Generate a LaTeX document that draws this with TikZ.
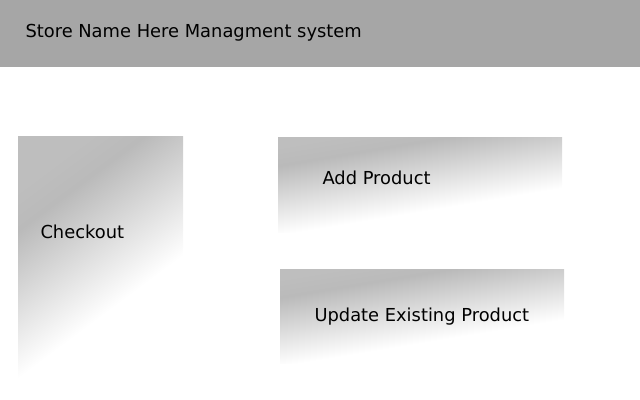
\documentclass[tikz,border=0pt]{standalone}
\usepackage{fontspec}
\setmainfont{DejaVu Sans}

\definecolor{headergray}{HTML}{A6A6A6}
\definecolor{panelgray}{HTML}{BABABA}
\definecolor{panellight}{HTML}{BEBEBE}

\pgfdeclareverticalshading{panelshade}{100bp}{color(0bp)=(white); color(39bp)=(white); color(67bp)=(panelgray); color(75bp)=(panellight); color(100bp)=(panellight)}

\tikzset{every picture/.style={line width=0.75pt}}
\tikzset{
  panel/.style={shading=panelshade, inner sep=0pt, outer sep=0pt},
  caption/.style={anchor=base west, inner sep=0pt, font=\fontsize{13.4pt}{16pt}\selectfont}
}

\begin{document}
\begin{tikzpicture}[x=0.75pt,y=0.75pt,yscale=-1,xscale=1]
        \useasboundingbox (0,0) rectangle (640,400);

        %Header bar
        \fill[headergray] (0,0) rectangle (640,67);
        \node[caption] (title) at (25,37) {Store Name Here Managment system};

        %Panels
        \node[panel, shading angle=36.7, minimum width=123.75pt, minimum height=184.5pt] (checkout) at (100.5,259) {};
        \node[panel, shading angle=9.5, minimum width=213pt, minimum height=71.25pt] (addproduct) at (420,184.5) {};
        \node[panel, shading angle=9.4, minimum width=213pt, minimum height=70.5pt] (updateproduct) at (422,316) {};

        %Panel texts
        \node[caption] (checkouttext) at (40,238) {Checkout};
        \node[caption] (addtext) at (322,184) {Add Product};
        \node[caption] (updatetext) at (314,321) {Update Existing Product};

\end{tikzpicture}
\end{document}
